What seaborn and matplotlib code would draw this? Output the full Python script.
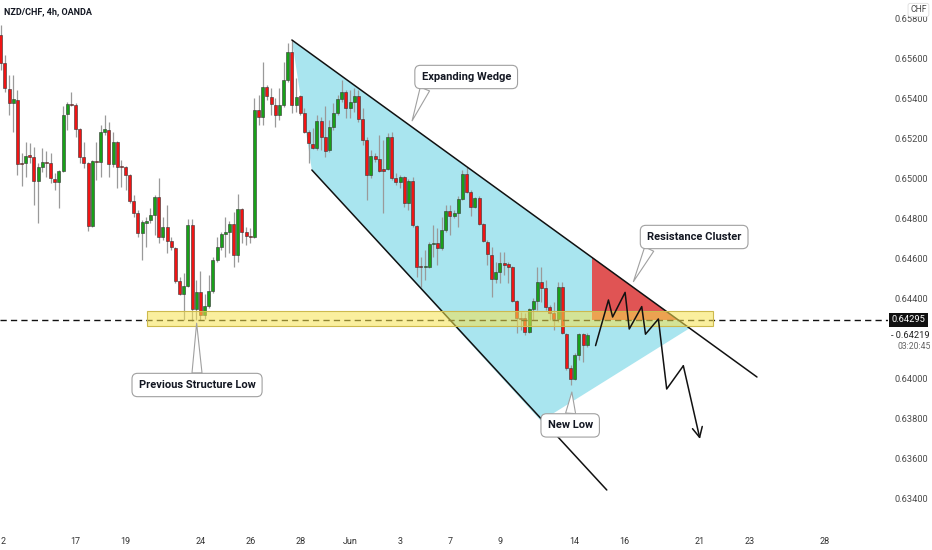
import numpy as np
import pandas as pd
import matplotlib
matplotlib.use("Agg")
import matplotlib.pyplot as plt
import seaborn as sns
from matplotlib.patches import Polygon, Rectangle

# 4h candles, NZD/CHF (bar index = position on chart)
opens = [
    .65720, .65580, .65450, .65380, .65395, .65080, .65080, .65120, .65110, .64990,
    .65060, .65085, .65080, .65000, .64985, .65040, .65325, .65375, .65370, .65250,
    .65110, .65080, .64765, .65090, .65085, .65235, .65245, .65075, .65185, .65065,
    .65060, .65020, .64890, .64830, .64730, .64780, .64795, .64820, .64910, .64710,
    .64760, .64690, .64655, .64490, .64425, .64465, .64770, .64350, .64435, .64320,
    .64365, .64440, .64595, .64660, .64725, .64735, .64775, .64620, .64850, .64735,
    .64715, .64710, .65345, .65310, .65460, .65410, .65370, .65320, .65370, .65495,
    .65635, .65370, .65415, .65330, .65235, .65175, .65155, .65290, .65210, .65145,
    .65260, .65330, .65400, .65435, .65355, .65385, .65415, .65300, .65195, .65020,
    .65115, .65100, .65050, .65050, .65210, .65005, .64985, .65010, .64880, .64990,
    .64765, .64565, .64560, .64560, .64675, .64680, .64655, .64745, .64840, .64815,
    .64830, .64900, .65025, .64935, .64860, .64905, .64775, .64685, .64620, .64500,
    .64535, .64580, .64575, .64560, .64390, .64305, .64305, .64235, .64350, .64390,
    .64485, .64455, .64360, .64330, .64300, .64460, .64225, .64055, .64000, .64120,
    .64225, .64170,
]
highs = [
    .65770, .65620, .65520, .65520, .65445, .65130, .65185, .65180, .65160, .65080,
    .65155, .65140, .65130, .65030, .65045, .65365, .65385, .65435, .65380, .65255,
    .65185, .65085, .65095, .65185, .65270, .65320, .65285, .65235, .65190, .65095,
    .65065, .65025, .64920, .64845, .64795, .64810, .64855, .64920, .65005, .64810,
    .64870, .64710, .64660, .64510, .64530, .64800, .64800, .64495, .64540, .64425,
    .64520, .64610, .64710, .64735, .64810, .64790, .64835, .64925, .64855, .64760,
    .64755, .65405, .65420, .65585, .65470, .65455, .65405, .65455, .65585, .65680,
    .65695, .65505, .65420, .65355, .65245, .65255, .65320, .65310, .65365, .65295,
    .65380, .65420, .65495, .65445, .65445, .65455, .65445, .65355, .65210, .65145,
    .65130, .65220, .65195, .65230, .65235, .65030, .65020, .65015, .65000, .65010,
    .64770, .64610, .64645, .64685, .64770, .64755, .64810, .64870, .64870, .64845,
    .64915, .65045, .65060, .64945, .64910, .64915, .64780, .64695, .64660, .64585,
    .64635, .64635, .64585, .64565, .64395, .64335, .64330, .64355, .64405, .64560,
    .64560, .64495, .64370, .64385, .64485, .64485, .64230, .64070, .64130, .64230,
    .64230, .64230,
]
lows = [
    .65545, .65435, .65320, .65235, .65020, .64965, .65010, .65080, .64870, .64780,
    .65035, .65010, .64980, .64945, .64855, .65035, .65245, .65365, .65210, .65080,
    .65055, .64740, .64760, .64995, .65010, .65220, .65010, .65060, .64955, .64960,
    .64945, .64880, .64810, .64710, .64595, .64660, .64780, .64720, .64680, .64695,
    .64630, .64645, .64480, .64420, .64295, .64460, .64290, .64295, .64295, .64300,
    .64355, .64430, .64585, .64645, .64610, .64630, .64560, .64585, .64680, .64670,
    .64680, .64705, .65270, .65270, .65395, .65320, .65260, .65295, .65360, .65485,
    .65330, .65335, .65320, .65230, .65080, .65150, .65145, .65145, .65110, .65135,
    .65245, .65320, .65385, .65305, .65305, .65335, .65285, .65170, .64895, .65005,
    .65085, .65035, .64830, .65045, .64995, .64970, .64955, .64860, .64845, .64760,
    .64510, .64460, .64495, .64555, .64610, .64570, .64645, .64735, .64720, .64805,
    .64760, .64895, .64930, .64815, .64855, .64770, .64685, .64570, .64410, .64480,
    .64480, .64520, .64480, .64385, .64230, .64245, .64220, .64230, .64295, .64345,
    .64385, .64345, .64295, .64245, .64285, .64225, .64045, .63970, .63995, .64095,
    .64085, .64160,
]
closes = [
    .65580, .65455, .65380, .65400, .65075, .65075, .65115, .65110, .64990, .65060,
    .65085, .65080, .65005, .64985, .65040, .65320, .65375, .65370, .65250, .65110,
    .65080, .64765, .65090, .65085, .65235, .65250, .65075, .65185, .65060, .65060,
    .65020, .64890, .64830, .64730, .64785, .64790, .64820, .64910, .64710, .64760,
    .64690, .64660, .64490, .64425, .64465, .64770, .64350, .64435, .64320, .64365,
    .64440, .64595, .64660, .64725, .64735, .64775, .64620, .64850, .64735, .64715,
    .64710, .65345, .65310, .65460, .65415, .65375, .65320, .65370, .65495, .65635,
    .65370, .65410, .65330, .65235, .65180, .65155, .65290, .65210, .65140, .65260,
    .65330, .65400, .65435, .65355, .65385, .65415, .65300, .65195, .65020, .65115,
    .65100, .65040, .65040, .65210, .65005, .64985, .65010, .64880, .64990, .64770,
    .64560, .64560, .64565, .64675, .64680, .64655, .64745, .64840, .64815, .64830,
    .64900, .65025, .64935, .64860, .64905, .64775, .64690, .64625, .64500, .64535,
    .64580, .64570, .64560, .64390, .64305, .64300, .64235, .64350, .64390, .64485,
    .64455, .64360, .64330, .64300, .64460, .64230, .64055, .64000, .64120, .64225,
    .64170, .64219,
]

# date axis (bar index of each labelled day)
tick_bars = [0, 18, 30, 48, 60, 72, 84, 96, 108, 120, 138, 150, 168, 180, 198]
tick_labels = ["2", "17", "19", "24", "26", "28", "Jun", "3", "7", "9", "14", "16", "21", "23", "28"]
price_ticks = [.634, .636, .638, .640, .644, .646, .648, .650, .652, .654, .656, .658]

# drawings (bar index, price)
wedge_x = [70.0, 165.7, 129.9, 74.8]
wedge_y = [.65695, .64255, .63790, .65045]
upper_x = [70.0, 181.8]
upper_y = [.65695, .64010]
lower_x = [74.8, 145.7]
lower_y = [.65045, .63445]
cluster_x = [142.1, 142.1, 162.8]
cluster_y = [.64610, .64295, .64295]
band_x = [35.2, 171.2]
band_y = [.64265, .64340]
level = .64295
last_price = .64219
path_x = [143.0, 146.1, 147.1, 150.1, 151.1, 154.1, 155.0, 158.1, 160.1, 164.1, 168.1]
path_y = [.64167, .64395, .64310, .64433, .64250, .64362, .64224, .64300, .63950, .64066, .63700]

callouts = [
    ("Expanding Wedge", (111.9, .65510), (98.9, .65291), (0.07, 0.0)),
    ("Resistance Cluster", (166.7, .64710), (152.1, .64487), (0.06, 0.0)),
    ("New Low", (136.9, .63768), (137.3, .63935), (0.5, 1.0)),
    ("Previous Structure Low", (47.2, .63970), (47.1, .64279), (0.5, 1.0)),
]

sns.set_theme(style="white")
plt.rcParams['font.family'] = ['Roboto', 'DejaVu Sans']

df = pd.DataFrame({'open': opens, 'high': highs, 'low': lows, 'close': closes})
df['bar'] = np.arange(len(df))
df['up'] = df['close'] > df['open']
df['bottom'] = df[['open', 'close']].min(axis=1)
df['height'] = (df['close'] - df['open']).abs().clip(lower=0.00003)

fig = plt.figure(figsize=(9.32, 5.5), dpi=100)
ax = fig.add_axes([0, 24 / 550, 888 / 932, 526 / 550])

# wedge + resistance zone
ax.add_patch(Polygon(list(zip(wedge_x, wedge_y)), closed=True, fc='#a9e5ef', ec='none', zorder=1))
ax.add_patch(Polygon(list(zip(cluster_x, cluster_y)), closed=True, fc='#e05454', ec='none', zorder=1.5))

# candles
ax.vlines(df['bar'], df['low'], df['high'], color='#9a9a9a', lw=0.9, zorder=2)
ax.bar(df['bar'], df['height'], bottom=df['bottom'], width=0.72,
       color=np.where(df['up'], '#18a018', '#f01414'), edgecolor='#333333', linewidth=0.4, zorder=3)

sns.lineplot(x=upper_x, y=upper_y, color='#111111', lw=1.1, ax=ax, zorder=4)
sns.lineplot(x=lower_x, y=lower_y, color='#111111', lw=1.1, ax=ax, zorder=4)

ax.axhline(level, color='#111111', ls=(0, (4.5, 3)), lw=1.0, zorder=4)
ax.add_patch(Rectangle((band_x[0], band_y[0]), band_x[1] - band_x[0], band_y[1] - band_y[0],
                       fc=(0.97, 0.89, 0.31, 0.55), ec='#cdb94d', lw=0.8, zorder=5))

# projected path
sns.lineplot(x=path_x[:-1], y=path_y[:-1], color='#111111', lw=1.1, ax=ax, zorder=6)
ax.annotate('', xy=(path_x[-1], path_y[-1]), xytext=(path_x[-2], path_y[-2]),
            arrowprops=dict(arrowstyle='->,head_length=0.6,head_width=0.3', color='#111111',
                            lw=1.1, shrinkA=0, shrinkB=0), zorder=6)

for text, pos, tip, rel in callouts:
    ax.annotate(text, xy=tip, xytext=pos, ha='center', va='center', fontsize=8,
                fontweight='bold', color='#131722', zorder=7,
                bbox=dict(boxstyle='round,pad=0.6,rounding_size=0.5', fc='white', ec='#a0a0a0', lw=0.8),
                arrowprops=dict(arrowstyle='wedge,tail_width=0.9,shrink_factor=0.5', fc='white',
                                ec='#a0a0a0', lw=0.8, relpos=rel, shrinkA=0, shrinkB=0))

ax.set_xlim(-0.17, 213.3)
ax.set_ylim(.63265, .65895)
ax.set_xticks(tick_bars)
ax.set_xticklabels(tick_labels)
ax.get_xticklabels()[0].set_ha('left')
ax.set_yticks(price_ticks)
ax.set_yticklabels([f"{p:.5f}" for p in price_ticks])
ax.yaxis.tick_right()
ax.tick_params(axis='y', length=0, pad=5, labelsize=6.7, labelcolor='#4a4a4a')
ax.tick_params(axis='x', length=0, pad=8, labelsize=6.5, labelcolor='#333333')
for s in ax.spines.values():
    s.set_visible(False)
ax.set_xlabel('')
ax.set_ylabel('')

ytr = ax.get_yaxis_transform()
ax.text(1.004, level, f"{level:.5f}", transform=ytr, ha='left', va='center', fontsize=6.7,
        color='white', bbox=dict(boxstyle='square,pad=0.25', fc='#111111', ec='none'), clip_on=False)
ax.text(1.003, last_price, f"- {last_price:.5f}", transform=ytr, ha='left', va='center',
        fontsize=6.7, color='#222222', clip_on=False)
ax.text(1.011, last_price - 0.00058, "03:20:45", transform=ytr, ha='left', va='center',
        fontsize=6.2, color='#666666', clip_on=False)
ax.text(1.025, 0.981, "CHF", transform=ax.transAxes, ha='left', va='center', fontsize=6.2,
        color='#444444', clip_on=False,
        bbox=dict(boxstyle='round,pad=0.25', fc='white', ec='#dddddd', lw=0.6))
ax.text(0.005, 0.978, "NZD/CHF, 4h, OANDA", transform=ax.transAxes, ha='left', va='center',
        fontsize=6.5, fontweight='bold', color='#131722')

fig.savefig("out.png", dpi=100)
